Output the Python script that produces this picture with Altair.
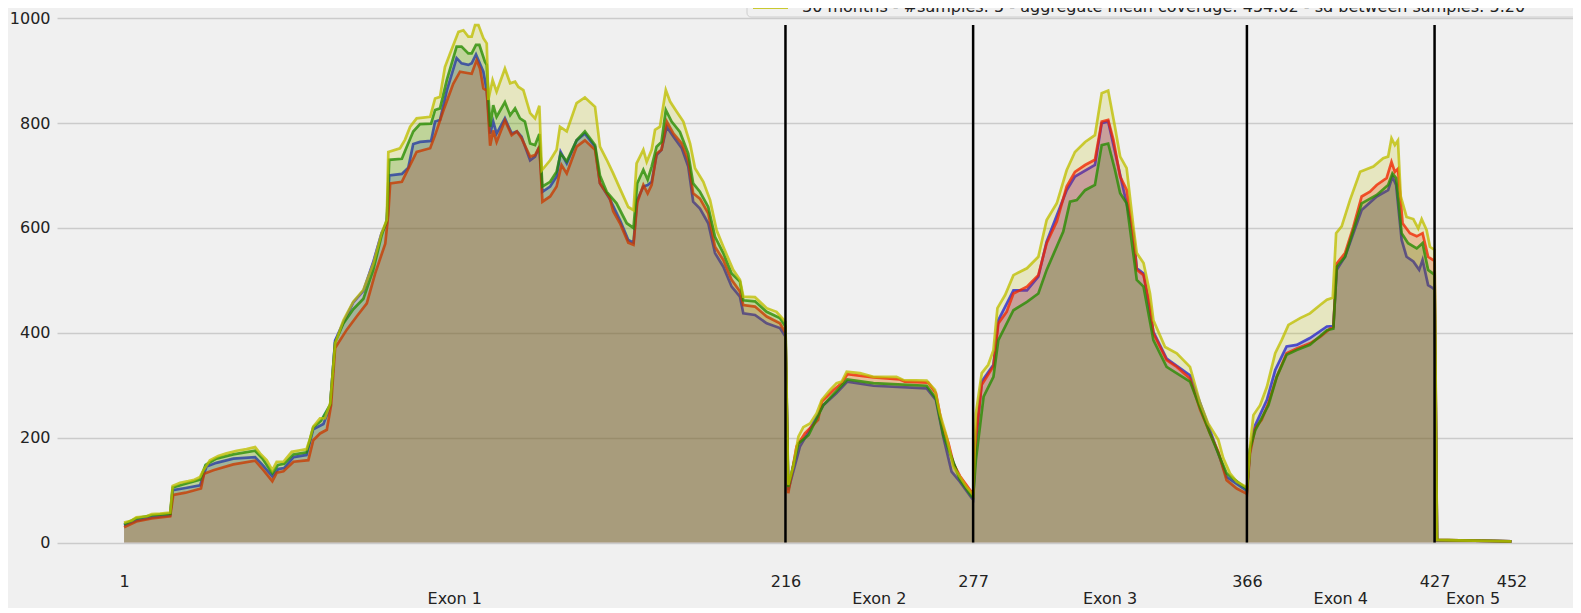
import altair as alt
import pandas as pd

# ---------------- data ----------------
series_names = ["series 1", "series 2", "series 3", "30 months"]
series_colors = ["#ff0000", "#0000ff", "#008000", "#bfbf00"]
draw_order = ["series 2", "series 1", "series 3", "30 months"]

red_pos = [1, 5, 10, 16, 17, 21, 26, 27, 30, 36.5, 43.6, 46.3, 49.2, 50.6, 52.8, 56.1, 60.9, 62.5, 64.7, 66.9, 68.3,
           69.6, 73.4, 76.6, 79.9, 82.6, 85.9, 86.9, 87.5, 91.3, 93.4, 96.1, 100.5, 102.1, 104.8, 108, 110.2, 114,
           115.6, 116.7, 117.8, 118.9, 120, 121, 122.1, 124.8, 127, 128.7, 130.2, 133, 134.6, 136, 137, 139.5,
           141.6, 143.2, 144.9, 148.1, 150.8, 154.1, 155.7, 158.9, 160, 162.2, 164.9, 166.6, 167.8, 169.8, 171.2,
           172.5, 174.1, 175.7, 177.4, 179.6, 182.3, 184.4, 186, 188.2, 190.9, 193.1, 195.8, 198.5, 201.2, 202.3,
           206.1, 209.9, 214.2, 216,
           216.9, 219.6, 222.3, 226.6, 227.8, 231.6, 234.3, 236.1, 244.6, 253.2, 254.8, 262.4, 264.9, 266.8, 269,
           270.6, 272.7, 276, 277,
           277.9, 279.8, 283.6, 285.2, 287.9, 290.1, 294.5, 298.2, 300.9, 304.2, 307.4, 310.1, 313.4, 316.6, 318.8,
           320.9, 322.6, 324.8, 326.9, 329.1, 330.2, 332.4, 334.5, 335.6, 339.9, 343.2, 347.5, 350.8, 354, 356.7,
           359.4, 362.7, 365.7, 366,
           367, 368.7, 370.8, 373, 375.7, 378.9, 382.2, 386.5, 389.8, 393, 394.1, 395.2, 397.9, 400.6, 403.3, 406,
           408.2, 411.4, 413, 414.1, 415.1, 416.6, 419, 421.2, 423.1, 424.9, 426.5, 427,
           427.8, 435, 445, 452]
red_cov = [29, 40, 46, 50, 91, 95, 103, 131, 138, 149, 156, 138, 117, 133, 136, 154, 157, 195, 208, 215, 262,
           371, 406, 431, 456, 513, 570, 627, 685, 688, 713, 745, 752, 777, 824, 875, 898, 894,
           920, 904, 866, 862, 757, 786, 764, 805, 777, 784, 771, 736, 739, 755, 650, 660,
           679, 720, 704, 755, 767, 749, 685, 657, 632, 609, 572, 568, 648, 682, 666,
           682, 742, 749, 803, 780, 761, 729, 666, 656, 628, 564, 539, 501, 479, 453,
           450, 431, 418, 400,
           94, 183, 208, 234, 269, 291, 304, 321, 315, 311, 307, 305, 285, 227, 189,
           151, 127, 100, 92,
           202, 301, 336, 418, 440, 475, 488, 510, 571, 612, 679, 707, 720, 730, 803,
           806, 768, 698, 673, 583, 520, 510, 450, 399, 348, 335, 313, 253, 208, 173,
           119, 103, 94, 92,
           170, 218, 234, 266, 316, 361, 370, 380, 392, 408, 411, 532, 552, 602, 660, 669,
           682, 695, 726, 707, 713, 609, 590, 584, 590, 545, 539, 538,
           5, 4, 3, 2]

blue_pos = [1, 5, 10, 16, 16.8, 21, 25.7, 27.8, 31, 36.5, 43.6, 46, 49.2, 51.1, 53, 56.1, 60.3, 62.5, 65.8, 68,
            69.6, 72.3, 75.5, 78.8, 82, 84.7, 86.4, 87.2, 91.3, 93.4, 95, 97.2, 100.8, 102.1, 103.7, 105.9, 109.1,
            110.7, 112.9, 114, 115.4, 117.8, 118.9, 120, 121, 122.1, 124.8, 127, 128.7, 130.2, 133, 134.6, 136,
            137, 139.5, 141.6, 142.9, 144.9, 148.1, 150.8, 154.1, 155.7, 158.9, 162.2, 164.9, 166.6, 167.8, 169.8,
            171.2, 172.5, 174.1, 175.7, 177.4, 179.6, 182.3, 184.4, 186, 188.2, 190.9, 193.1, 195.8, 198.5, 201.2,
            202.3, 206.1, 209.9, 214.2, 216,
            216.9, 220.7, 222.9, 228.3, 232.6, 236.1, 244.6, 261.9, 264.9, 267.3, 270, 272.7, 276.5, 277,
            277.9, 279.8, 283.6, 285.2, 290.1, 294.5, 298.2, 300.9, 307.4, 310.1, 316.6, 318.8, 320.9, 324.8,
            329.1, 330.2, 332.4, 335.6, 339.9, 347.5, 354, 359.4, 365.7, 366,
            367, 368.7, 372.5, 375.2, 378.9, 382.2, 386.5, 392, 394.1, 395.2, 397.9, 400.6, 403.3, 408.2, 411.9,
            413.3, 414.5, 416.3, 417.9, 420.1, 422, 423.1, 424.9, 426.5, 427,
            427.8, 435, 445, 452]
blue_cov = [33, 42, 48, 52, 100, 104, 109, 145, 152, 160, 163, 148, 126, 140, 142, 163, 167, 216, 226, 260,
            385, 420, 458, 480, 535, 590, 610, 700, 703, 715, 760, 764, 766, 803, 806, 862, 924,
            914, 911, 914, 931, 898, 862, 780, 803, 780, 809, 780, 784, 774, 729, 736, 755,
            669, 679, 698, 745, 723, 767, 780, 755, 685, 655, 615, 577, 572, 653, 679,
            682, 688, 739, 749, 793, 774, 752, 717, 650, 637, 609, 552, 526, 488, 469,
            437, 434, 418, 409, 393,
            100, 183, 205, 262, 285, 307, 299, 294, 272, 202, 135, 116, 85, 82,
            190, 307, 339, 424, 481, 481, 507, 574, 672, 698, 720, 800, 803, 701,
            590, 523, 513, 402, 351, 319, 214, 125, 100, 98,
            176, 224, 272, 329, 374, 377, 390, 412, 413, 520, 545, 590, 634, 660, 672,
            698, 682, 577, 545, 536, 520, 539, 491, 485, 482,
            4, 4, 3, 2]

green_pos = [1, 5, 10, 16, 16.8, 21, 25.7, 27.5, 31, 36.5, 43.6, 46, 49.2, 51, 53, 56, 60.3, 62.5, 65, 68,
             69.6, 72.3, 75.5, 78.8, 82, 84.7, 86.4, 87.2, 91.3, 92.9, 95, 97.2, 100.8, 102.1, 103.7, 105.9, 109.1,
             110.7, 112.9, 114, 115.4, 116.5, 118.3, 118.9, 120, 121, 122.1, 124.8, 126.5, 128.1, 129.7, 131.3,
             133, 134.6, 136, 137, 139.5, 141.6, 142.9, 144.9, 148.1, 150.8, 154.1, 155.7, 157.9, 161.1, 164.4,
             166.6, 167.8, 169.8, 171.2, 172.5, 174.1, 175.7, 177.1, 179, 181.7, 184.4, 186, 188.2, 190.9, 193.1,
             195.8, 198.5, 201.2, 202.3, 206.1, 209.9, 214.2, 216,
             216.9, 220.2, 223.5, 228.3, 236.1, 244.6, 261.9, 264.9, 267.3, 272.7, 276.5, 277,
             277.9, 280.4, 283.6, 285.2, 290.1, 294.5, 298.2, 300.9, 306.3, 308.5, 310.7, 313.4, 316.6, 318.8,
             320.9, 323.1, 324.8, 326.9, 330.2, 332.4, 335.6, 339.9, 347.5, 354, 359.4, 365.7, 366,
             367, 368.7, 373, 375.7, 378.9, 382.2, 386.5, 392, 394.1, 395.2, 397.9, 400.6, 403.3, 408.2, 411.9,
             413.3, 414.5, 416.3, 418.4, 421.2, 423.1, 424.9, 426.5, 427,
             427.8, 435, 445, 452]
green_cov = [35, 46, 52, 55, 105, 112, 120, 148, 160, 168, 175, 160, 132, 148, 150, 168, 172, 220, 232, 263,
             382, 418, 445, 465, 520, 585, 615, 730, 732, 755, 784, 798, 799, 825, 828, 882, 946,
             946, 933, 933, 949, 949, 917, 911, 793, 834, 812, 840, 815, 828, 809, 803,
             761, 758, 779, 679, 688, 707, 742, 727, 767, 784, 758, 700, 669, 647, 609,
             600, 685, 711, 692, 717, 755, 764, 825, 803, 783, 742, 685, 669, 640, 583,
             552, 513, 498, 462, 460, 440, 428, 412,
             106, 189, 205, 262, 311, 304, 299, 275, 205, 120, 88, 86,
             157, 278, 316, 386, 443, 459, 475, 520, 593, 650, 653, 672, 682, 758,
             761, 711, 666, 647, 501, 488, 386, 335, 307, 208, 132, 103, 100,
             179, 214, 262, 316, 358, 367, 377, 405, 408, 526, 545, 596, 647, 663, 682,
             704, 695, 590, 571, 561, 571, 520, 513, 510,
             5, 4, 3, 2]

yellow_pos = [1, 3.5, 5, 8.4, 10, 12.7, 16, 16.8, 19.2, 21.9, 23.5, 25.7, 26.8, 28.9, 31.6, 34.3, 37.6, 40.8, 43.6,
              45.2, 47.4, 49.2, 50.6, 52.8, 55.5, 58.2, 60.3, 61.5, 62.5, 64.7, 66.3, 68,
              69.6, 72.3, 75.5, 78.8, 82, 84.7, 86.4, 86.9, 90.7, 92.3, 94, 96.1, 100.5, 102.1, 103.7, 105.3, 107,
              109.7, 111.3, 112.9, 114, 115.1, 116.2, 117.8, 118.9, 119.4, 120.8, 122.1, 124.8, 126.5, 128.1,
              129.2, 130.8, 133, 134.6, 136, 136.8, 139.5, 141.6, 142.7, 144.9, 148.1, 150.8, 154.1, 155.7, 157.9,
              160, 162.2, 164.9, 166.6, 167.6, 169.8, 170.9, 172.5, 173.6, 175.2, 177.1, 178.5, 180.6, 182.8, 185,
              186.6, 189.3, 191.5, 193.6, 195.8, 199, 201.2, 202.3, 206.1, 209.9, 213.1, 216,
              216.9, 218.5, 220.2, 221.8, 224, 226.1, 227.8, 230.5, 232.6, 234.3, 235.9, 240.2, 244.6, 252.1,
              254.3, 261.9, 264.6, 266.2, 268.4, 270.6, 272.7, 274.9, 277,
              277.9, 279.8, 281.9, 283.6, 284.9, 287.4, 290.1, 294.5, 298.2, 300.9, 304.2, 307.4, 310.1, 313.4,
              316.6, 318.8, 320.9, 323.1, 324.8, 326.9, 329.1, 330.2, 332.4, 334.5, 335.6, 339.4, 343.2, 347.5,
              350.8, 353.4, 356.7, 358.3, 360.5, 362.7, 365.7, 366,
              367, 368.1, 370.3, 372.5, 375.2, 377.3, 379.5, 383.3, 386.5, 389.8, 392, 393.9, 395, 396.8, 399.5,
              402.8, 407.1, 410.3, 411.9, 413, 414.1, 415.1, 416, 417.9, 420.1, 421.7, 422.8, 424.4, 425.5, 427,
              427.8, 435, 445, 452]
yellow_cov = [38, 42, 48, 50, 54, 55, 57, 108, 114, 117, 119, 125, 138, 157, 165, 170, 175, 178, 182,
              170, 157, 138, 154, 154, 173, 176, 178, 199, 221, 237, 237, 265,
              380, 424, 459, 482, 532, 590, 615, 745, 752, 768, 793, 809, 812, 847, 850, 907, 933,
              974, 977, 965, 965, 987, 987, 962, 952, 844, 882, 860, 904, 876, 879,
              869, 863, 819, 809, 833, 710, 729, 749, 793, 784, 838, 849, 831, 755, 730,
              704, 675, 640, 634, 723, 749, 726, 749, 787, 793, 863, 841, 822, 803, 761,
              714, 688, 653, 596, 564, 520, 501, 469, 468, 447, 440, 421,
              110, 145, 202, 220, 227, 246, 272, 291, 304, 307, 326, 323, 316, 316,
              310, 309, 291, 246, 202, 145, 126, 106, 91,
              246, 323, 339, 367, 447, 472, 510, 523, 545, 615, 647, 710, 745, 764,
              777, 857, 862, 793, 736, 714, 602, 552, 533, 475, 424, 373, 361, 335,
              266, 227, 196, 161, 132, 116, 106, 104,
              183, 243, 262, 297, 361, 386, 415, 428, 437, 453, 463, 467, 590, 603, 653,
              707, 717, 733, 736, 771, 758, 767, 660, 621, 617, 599, 617, 596, 564, 558,
              5, 4, 3, 2]

exon_bounds = [216, 277, 366, 427]
exon_top = 987
x_ticks = [1, 216, 277, 366, 427, 452]
y_ticks = [0, 200, 400, 600, 800, 1000]
exon_names = ["Exon 1", "Exon 2", "Exon 3", "Exon 4", "Exon 5"]
exon_mid = [108.5, 246.5, 321.5, 396.5, 439.5]
legend_label = "30 months - #samples: 5 - aggregate mean coverage: 454.62 - sd between samples: 5.20"

# ---------------- tables ----------------
rows = []
for name, pos, cov in zip(series_names,
                          [red_pos, blue_pos, green_pos, yellow_pos],
                          [red_cov, blue_cov, green_cov, yellow_cov]):
    for p, c in zip(pos, cov):
        rows.append({"series": name, "pos": p, "cov": c, "base": 0})
df = pd.DataFrame(rows)
df_v = pd.DataFrame({"pos": exon_bounds, "base": [0] * len(exon_bounds), "top": [exon_top] * len(exon_bounds)})
df_ex = pd.DataFrame({"name": exon_names, "mid": exon_mid})
df_leg = pd.DataFrame({"label": [legend_label]})

FONT = "DejaVu Sans"
TXT = "#222222"
xscale = alt.Scale(domain=[-20.8, 472], nice=False, zero=False)
yscale = alt.Scale(domain=[-42.9, 1019.5], nice=False, zero=False)
color = alt.Color("series:N", scale=alt.Scale(domain=series_names, range=series_colors), legend=None)

xaxis = alt.Axis(values=x_ticks, format="d", title=None, grid=False, ticks=False, domain=False,
                 labelPadding=8, labelFontSize=16, labelFont=FONT, labelColor=TXT, labelFlush=False)
yaxis = alt.Axis(values=y_ticks, format="d", title=None, grid=True, gridColor="#cbcbcb", gridWidth=1.5,
                 ticks=False, tickSize=0, domain=False, labelPadding=7, labelFontSize=16, labelFont=FONT,
                 labelColor=TXT)

layers = []
for i, name in enumerate(draw_order):
    sub = alt.Chart(df).transform_filter(alt.datum.series == name)
    if i == 0:
        xe = alt.X("pos:Q", scale=xscale, axis=xaxis)
        ye = alt.Y("cov:Q", stack=None, scale=yscale, axis=yaxis)
    else:
        xe = alt.X("pos:Q", scale=xscale)
        ye = alt.Y("cov:Q", stack=None, scale=yscale)
    layers.append(sub.mark_area(opacity=0.2).encode(x=xe, y=ye, y2="base:Q", color=color))
    layers.append(sub.mark_line(strokeWidth=2.7, opacity=0.78).encode(
        x=alt.X("pos:Q", scale=xscale),
        y=alt.Y("cov:Q", stack=None, scale=yscale),
        color=color,
    ))

vlines = alt.Chart(df_v).mark_rule(color="black", strokeWidth=2.5).encode(
    x=alt.X("pos:Q", scale=xscale),
    y=alt.Y("base:Q", scale=yscale),
    y2="top:Q",
)
exon_text = alt.Chart(df_ex).mark_text(font=FONT, fontSize=16, color=TXT, baseline="alphabetic").encode(
    x=alt.X("mid:Q", scale=xscale),
    y=alt.value(596),
    text="name:N",
)
leg_box = alt.Chart(df_leg).mark_rect(fill="#f0f0f0", stroke="#cccccc", strokeWidth=1, cornerRadius=4,
                                      opacity=0.9).encode(
    x=alt.value(690), x2=alt.value(1540), y=alt.value(-40), y2=alt.value(9)
)
leg_swatch = alt.Chart(df_leg).mark_rule(color="#bfbf00", strokeWidth=4, opacity=0.8).encode(
    x=alt.value(696), x2=alt.value(731), y=alt.value(-1)
)
leg_text = alt.Chart(df_leg).mark_text(font=FONT, fontSize=16, color=TXT, align="left",
                                       baseline="alphabetic").encode(
    x=alt.value(745), y=alt.value(4), text="label:N"
)

chart = alt.layer(*layers, vlines, exon_text, leg_box, leg_swatch, leg_text).properties(
    width=1516, height=557,
    padding={"left": 49, "top": 0, "right": 0, "bottom": 43},
    autosize=alt.AutoSizeParams(type="none"),
).configure(background="#f0f0f0").configure_view(strokeWidth=0)

chart.save("out.html", embed_options={"renderer": "svg", "actions": False})
